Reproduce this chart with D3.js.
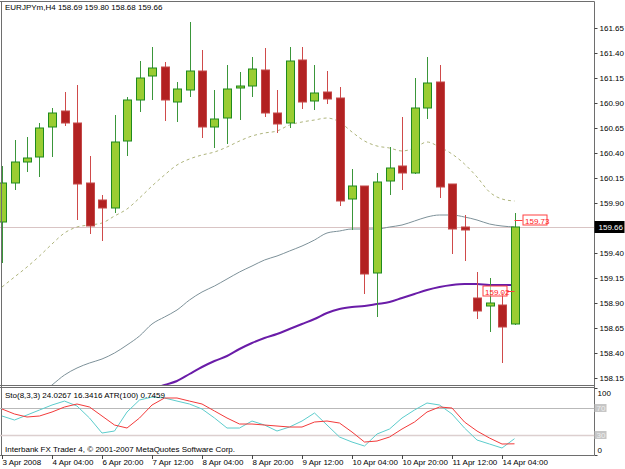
<!DOCTYPE html>
<html lang="en">
<head>
<meta charset="UTF-8" />
<title>EURJPYm,H4</title>
<script src="https://d3js.org/d3.v7.min.js"></script>
<style>
  body { margin: 0; background: #fff; }
  svg text { font-family: "Liberation Sans", Arial, sans-serif; font-size: 8px; fill: #000; }
</style>
</head>
<body>
<svg id="chart" width="625" height="469"></svg>
<script>
// candles, one per H4 bar
const opens  = [159.71, 160.10, 160.31, 160.36, 160.66, 160.82, 160.70, 160.10, 159.93, 159.85,
                160.52, 160.93, 161.17, 161.26, 160.91, 161.03, 161.22, 160.66, 160.75, 161.05,
                161.07, 161.23, 160.80, 160.70, 161.33, 160.92, 161.01, 160.95, 159.94, 160.07,
                159.20, 160.12, 160.27, 160.20, 160.85, 161.11, 160.09, 159.66, 158.95, 158.87,
                158.88, 158.69];
const highs  = [160.27, 160.53, 160.56, 160.70, 160.85, 161.01, 161.08, 160.37, 159.98, 160.78,
                160.96, 161.32, 161.46, 161.31, 161.11, 161.71, 161.43, 161.03, 161.28, 161.21,
                161.36, 161.45, 161.03, 161.46, 161.46, 161.28, 161.22, 161.06, 160.24, 160.07,
                160.20, 160.46, 160.76, 161.15, 161.36, 161.28, 160.09, 159.78, 159.21, 159.15,
                159.01, 159.80];
const lows   = [159.30, 160.03, 160.21, 160.16, 160.36, 160.67, 159.73, 159.59, 159.52, 159.80,
                160.37, 160.81, 160.93, 160.72, 160.71, 160.96, 160.55, 160.45, 160.49, 160.73,
                160.96, 160.76, 160.60, 160.65, 160.84, 160.83, 160.89, 159.87, 159.63, 158.99,
                158.76, 159.98, 160.03, 160.19, 160.74, 159.95, 159.39, 159.32, 158.74, 158.61,
                158.30, 158.68];
const closes = [160.10, 160.31, 160.35, 160.65, 160.80, 160.70, 160.09, 159.67, 159.85, 160.51,
                160.93, 161.15, 161.25, 160.93, 161.04, 161.22, 160.66, 160.74, 161.04, 161.07,
                161.24, 160.80, 160.69, 161.32, 160.91, 161.00, 160.94, 159.92, 160.07, 159.19,
                160.11, 160.25, 160.20, 160.85, 161.10, 160.06, 159.64, 159.63, 158.82, 158.90,
                158.66, 159.66];

// moving averages (null = off the chart)
const maDashed = [159.06, 159.16, 159.26, 159.37, 159.49, 159.60, 159.66, 159.68, 159.70, 159.77,
                  159.84, 159.95, 160.07, 160.18, 160.28, 160.34, 160.38, 160.41, 160.46, 160.52,
                  160.57, 160.60, 160.62, 160.68, 160.71, 160.73, 160.75, 160.71, 160.61, 160.52,
                  160.47, 160.45, 160.42, 160.45, 160.51, 160.46, 160.39, 160.29, 160.16, 160.01,
                  159.94, 159.92];
const maGray   = [null, null, null, 157.98, 158.08, 158.18, 158.25, 158.30, 158.34, 158.40,
                  158.48, 158.57, 158.69, 158.76, 158.83, 158.93, 159.01, 159.07, 159.14, 159.21,
                  159.27, 159.33, 159.37, 159.42, 159.47, 159.53, 159.60, 159.62, 159.64, 159.64,
                  159.64, 159.66, 159.68, 159.72, 159.76, 159.78, 159.78, 159.76, 159.73, 159.69,
                  159.67, 159.66];
const maPurple = [null, null, null, null, null, null, null, null, null, null,
                  null, null, 158.03, 158.08, 158.12, 158.19, 158.26, 158.32, 158.37, 158.44,
                  158.50, 158.55, 158.59, 158.64, 158.69, 158.74, 158.80, 158.84, 158.86, 158.87,
                  158.89, 158.91, 158.95, 158.99, 159.03, 159.06, 159.08, 159.09, 159.09, 159.08,
                  159.08, 159.08];

// stochastic (8,3,3)
const stoMain   = [58.0, 52.0, 59.5, 67.0, 74.5, 80.4, 73.0, 55.0, 32.5, 35.5,
                   64.0, 82.0, 86.4, 85.0, 80.4, 76.0, 68.5, 55.0, 40.0, 40.0,
                   50.5, 44.5, 35.5, 41.5, 50.5, 62.5, 44.5, 26.5, 19.0, 13.0,
                   31.0, 38.5, 55.0, 67.0, 77.5, 74.5, 61.0, 40.0, 22.0, 16.0,
                   10.0, 24.03];
const stoSignal = [68.5, 61.0, 56.5, 58.0, 64.0, 71.5, 76.0, 71.5, 58.0, 44.5,
                   40.0, 55.0, 74.5, 85.0, 85.0, 80.4, 76.0, 65.5, 55.0, 46.0,
                   46.0, 44.5, 43.0, 41.5, 41.5, 49.0, 50.5, 47.5, 34.0, 19.0,
                   20.5, 26.5, 38.5, 49.0, 64.0, 71.5, 70.0, 49.0, 35.5, 25.0,
                   16.0, 16.34];
const stoLevels = [70, 30];

const priceTicks = [161.65, 161.40, 161.15, 160.90, 160.65, 160.40, 160.15, 159.90,
                    159.40, 159.15, 158.90, 158.65, 158.40, 158.15];
const timeLabels = ["3 Apr 2008", "4 Apr 04:00", "6 Apr 20:00", "7 Apr 12:00", "8 Apr 04:00",
                    "8 Apr 20:00", "9 Apr 12:00", "10 Apr 04:00", "10 Apr 20:00", "11 Apr 12:00",
                    "14 Apr 04:00"];
const timeLabelBars = [0, 4, 8, 12, 16, 20, 24, 28, 32, 36, 40];
const bidPrice = 159.66;
const markerLevels = [159.73, 159.02];

{
    const svg = d3.select("svg#chart");
    const frame = { left: 1.5, right: 594.5, top: 1.5, mainBottom: 385.5, subTop: 387.5, subBottom: 455 };
    const barStep = 12.5;
    const n = closes.length;

    const xScale = d3.scaleLinear().domain([0, n - 1]).range([2, 2 + barStep * (n - 1)]);
    const yScale = d3.scaleLinear().domain([158.15, 161.65]).range([378, 28]);
    const stoScale = d3.scaleLinear().domain([0, 100]).range([454.7, 388]);

    const defs = svg.append("defs");
    defs.append("clipPath").attr("id", "mainClip")
        .append("rect").attr("x", 0).attr("y", frame.top).attr("width", frame.right).attr("height", frame.mainBottom - frame.top);
    defs.append("clipPath").attr("id", "subClip")
        .append("rect").attr("x", 0).attr("y", frame.subTop).attr("width", frame.right).attr("height", frame.subBottom - frame.subTop);

    const main = svg.append("g").attr("clip-path", "url(#mainClip)");

    // bid line
    main.append("line")
        .attr("x1", 0).attr("x2", frame.right)
        .attr("y1", Math.round(yScale(bidPrice)) + 0.5).attr("y2", Math.round(yScale(bidPrice)) + 0.5)
        .attr("stroke", "#d9c4c4");

    const idx = d3.range(n);
    const maLine = (arr) => d3.line()
        .defined((i) => arr[i] != null)
        .x((i) => xScale(i))
        .y((i) => yScale(arr[i]))
        .curve(d3.curveMonotoneX)(idx);

    main.append("path").attr("d", maLine(maDashed))
        .attr("fill", "none").attr("stroke", "#aeb47c").attr("stroke-width", 1)
        .attr("stroke-dasharray", "3 3");
    main.append("path").attr("d", maLine(maGray))
        .attr("fill", "none").attr("stroke", "#7d9199").attr("stroke-width", 1);
    main.append("path").attr("d", maLine(maPurple))
        .attr("fill", "none").attr("stroke", "#6a1ca8").attr("stroke-width", 2);

    // candles
    const bull = (i) => closes[i] >= opens[i];
    main.selectAll("line.wick")
        .data(idx)
        .join("line")
        .attr("class", "wick")
        .attr("x1", (i) => Math.round(xScale(i)) + 0.5)
        .attr("x2", (i) => Math.round(xScale(i)) + 0.5)
        .attr("y1", (i) => yScale(highs[i]))
        .attr("y2", (i) => yScale(lows[i]))
        .attr("stroke", (i) => (bull(i) ? "#3a963a" : "#cf4a4a"));

    main.selectAll("rect.body")
        .data(idx)
        .join("rect")
        .attr("class", "body")
        .attr("x", (i) => Math.round(xScale(i)) - 3.5)
        .attr("width", 8)
        .attr("y", (i) => yScale(Math.max(opens[i], closes[i])))
        .attr("height", (i) => Math.max(1, Math.abs(yScale(opens[i]) - yScale(closes[i]))))
        .attr("fill", (i) => (bull(i) ? "#9acd32" : "#b22222"))
        .attr("stroke", (i) => (bull(i) ? "#1f8a1f" : "#c44848"))
        .attr("stroke-width", 1);

    // price level markers near last bar
    const lastX = xScale(n - 1);
    markerLevels.forEach((p, k) => {
        const y = Math.round(yScale(p)) + 0.5;
        const right = k === 0;
        const boxX = right ? lastX + 8 : lastX - 32;
        main.append("line")
            .attr("x1", right ? lastX : boxX + 24).attr("x2", right ? boxX : lastX)
            .attr("y1", y).attr("y2", y).attr("stroke", "#ff4040");
        main.append("rect")
            .attr("x", boxX + 0.5).attr("y", y - 5.5).attr("width", 24).attr("height", 10)
            .attr("fill", "#fff").attr("fill-opacity", 0.5).attr("stroke", "#ff4040");
        main.append("text")
            .attr("x", boxX + 2.5).attr("y", y + 3)
            .style("fill", "#ff2020")
            .text(p.toFixed(2));
    });

    // frames
    const frameG = svg.append("g").attr("stroke", "#6e6e6e").attr("fill", "none");
    frameG.append("line").attr("x1", 0).attr("x2", frame.right).attr("y1", frame.top).attr("y2", frame.top);
    frameG.append("line").attr("x1", frame.left).attr("x2", frame.left).attr("y1", frame.top).attr("y2", frame.subBottom);
    frameG.append("line").attr("x1", frame.right).attr("x2", frame.right).attr("y1", frame.top).attr("y2", frame.subBottom);
    frameG.append("line").attr("x1", 0).attr("x2", frame.right).attr("y1", frame.mainBottom).attr("y2", frame.mainBottom);
    frameG.append("line").attr("x1", 0).attr("x2", frame.right).attr("y1", frame.subTop).attr("y2", frame.subTop);
    frameG.append("line").attr("x1", 0).attr("x2", frame.right).attr("y1", frame.subBottom + 0.5).attr("y2", frame.subBottom + 0.5);

    // right price axis
    const rightAxis = d3.axisRight(yScale)
        .tickValues(priceTicks)
        .tickSize(3)
        .tickPadding(2)
        .tickFormat(d3.format(".2f"));
    const axisG = svg.append("g")
        .attr("transform", `translate(${frame.right},0)`)
        .call(rightAxis);
    axisG.select(".domain").remove();
    axisG.selectAll("text").attr("font-family", null).attr("font-size", null);
    axisG.selectAll("line").attr("stroke", "#444");

    // bid label
    const bidY = Math.round(yScale(bidPrice));
    svg.append("rect").attr("x", frame.right).attr("y", bidY - 6).attr("width", 30).attr("height", 12).attr("fill", "#000");
    svg.append("text").attr("x", frame.right + 4).attr("y", bidY + 3).style("fill", "#fff").text(bidPrice.toFixed(2));

    // title
    svg.append("text").attr("x", 5).attr("y", 10)
        .text(`EURJPYm,H4  ${opens[n - 1].toFixed(2)} ${highs[n - 1].toFixed(2)} ${lows[n - 1].toFixed(2)} ${closes[n - 1].toFixed(2)}`);

    // stochastic window
    const sub = svg.append("g").attr("clip-path", "url(#subClip)");
    stoLevels.forEach((lv, k) => {
        const y = Math.round(stoScale(lv)) + 0.5;
        sub.append("line").attr("x1", 0).attr("x2", frame.right).attr("y1", y).attr("y2", y)
            .attr("stroke", k === 0 ? "#b9b9b9" : "#dccfcf").attr("stroke-width", k === 0 ? 1 : 1.5);
    });
    const stoLine = (arr) => d3.line().x((i) => xScale(i)).y((i) => stoScale(arr[i]))(idx);
    sub.append("path").attr("d", stoLine(stoMain)).attr("fill", "none").attr("stroke", "#5ccccc").attr("stroke-width", 1);
    sub.append("path").attr("d", stoLine(stoSignal)).attr("fill", "none").attr("stroke", "#f23a3a").attr("stroke-width", 1);

    svg.append("text").attr("x", 5).attr("y", 398).text("Sto(8,3,3) 24.0267 16.3416  ATR(100) 0.7459");
    svg.append("text").attr("x", 5).attr("y", 452).text("Interbank FX Trader 4, \u00a9 2001-2007 MetaQuotes Software Corp.");

    // stochastic scale labels
    [100, 0].forEach((v) => {
        const y = v === 100 ? stoScale(v) + 8 : stoScale(v) - 2;
        svg.append("line").attr("x1", frame.right).attr("x2", frame.right + 3)
            .attr("y1", Math.round(stoScale(v)) + 0.5).attr("y2", Math.round(stoScale(v)) + 0.5).attr("stroke", "#444");
        svg.append("text").attr("x", frame.right + 3).attr("y", y).text(v);
    });
    stoLevels.forEach((lv) => {
        const y = Math.round(stoScale(lv));
        svg.append("rect").attr("x", frame.right).attr("y", y - 4).attr("width", 12).attr("height", 8).attr("fill", "#c6c6c6");
        svg.append("text").attr("x", frame.right + 2).attr("y", y + 3).style("fill", "#eeeeee").text(lv);
    });

    // time axis
    const timeG = svg.append("g");
    timeLabelBars.forEach((b, k) => {
        const x = Math.round(xScale(b)) + 0.5;
        timeG.append("line").attr("x1", x).attr("x2", x).attr("y1", frame.subBottom).attr("y2", frame.subBottom + 4).attr("stroke", "#444");
        timeG.append("text").attr("x", x).attr("y", 465).text(timeLabels[k]);
    });
}
</script>
</body>
</html>
